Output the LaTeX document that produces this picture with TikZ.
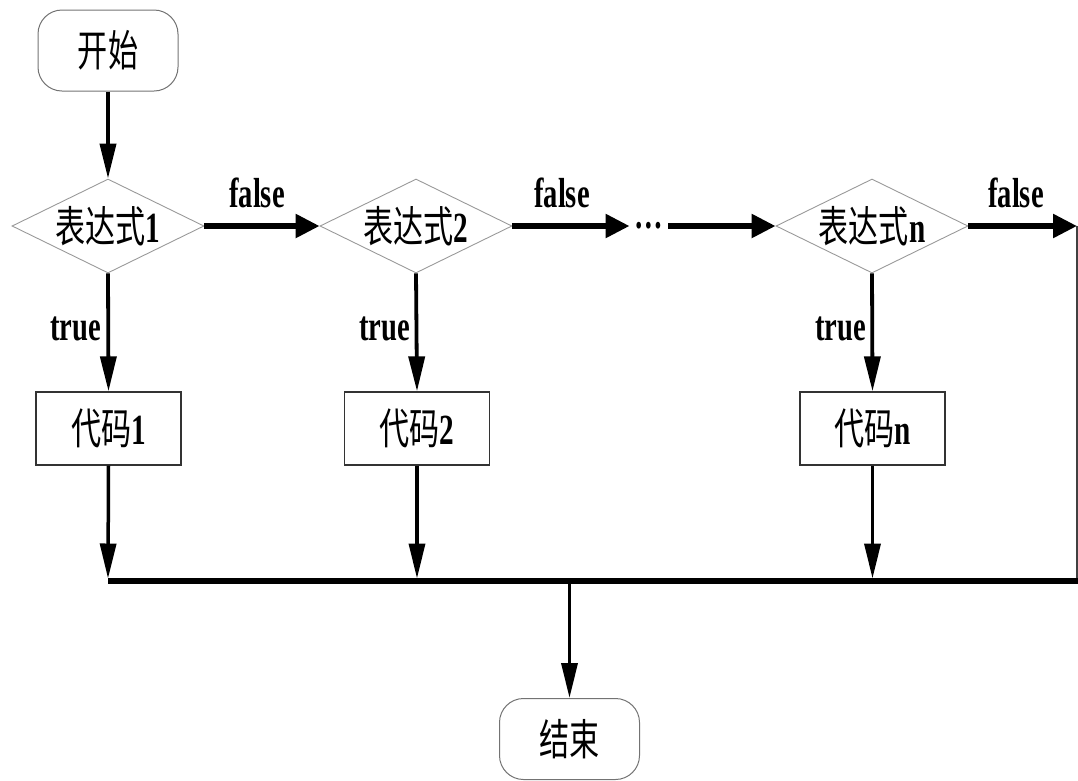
\documentclass[tikz,border=0pt]{standalone}
\usepackage{fontspec}
\usetikzlibrary{arrows.meta,shapes.geometric}
\newfontfamily\cjk[FakeStretch=0.7]{Noto Sans CJK SC}
\newfontfamily\lat[FakeStretch=0.68]{Liberation Serif Bold}
\tikzset{
  every node/.style={font=\fontsize{43}{44}\selectfont},
  term/.style={draw=black!55, line width=1pt, rounded corners=24pt,
    minimum width=140pt, minimum height=81pt, inner sep=0pt},
  cond/.style={shape=diamond, draw=black!40, line width=0.9pt, aspect=2.04,
    minimum width=192pt, minimum height=94pt, inner sep=0pt},
  proc/.style={draw=black!80, line width=1.3pt,
    minimum width=145pt, minimum height=73pt, inner sep=0pt},
  lbl/.style={font=\fontsize{42}{44}\selectfont\lat, inner sep=0pt},
  vflow/.style={line width=3.8pt, -{Triangle[length=35pt,width=16pt]}},
  hflow/.style={line width=5.5pt, -{Triangle[length=24pt,width=23pt]}},
  busline/.style={line width=6pt},
  returnline/.style={line width=2pt, draw=black!75},
}
\begin{document}
\begin{tikzpicture}[x=1pt,y=-1pt]
\useasboundingbox (0,0) rectangle (1078,780);

% terminals
\node[term] (start) at (108,50.5) {\cjk 开始};
\node[term] (stop) at (569.5,739) {\cjk 结束};

% conditions
\node[cond, label={center:{\cjk 表达式\lat 1}}] (d1) at (108,226) {};
\node[cond, label={center:{\cjk 表达式\lat 2}}] (d2) at (416,226) {};
\node[cond, label={center:{\cjk 表达式\lat n}}] (dn) at (872,226) {};
\node[lbl, text height=5.5pt, text depth=0pt, inner xsep=5pt] (dots) at (649,226) {…};

% code blocks
\node[proc] (p1) at (108.5,428.5) {\cjk 代码\lat 1};
\node[proc] (p2) at (417,428.5) {\cjk 代码\lat 2};
\node[proc] (pn) at (872.5,428.5) {\cjk 代码\lat n};

% junction points on the collecting bus
\coordinate (bl) at (108,581);
\coordinate (br) at (1078,581);
\coordinate (j1) at (108,578.5);
\coordinate (j2) at (417,578.5);
\coordinate (jn) at (872.5,578.5);
\coordinate (jm) at (569.5,583);
\coordinate (rt) at (1077,226);
\coordinate (rb) at (1077,581);

% flow
\draw[vflow] (start.south) -- (d1.north);
\draw[hflow] (d1.east) -- (d2.west);
\draw[hflow] (d2.east) -- (dots.west);
\draw[hflow] (dots.east) -- (dn.west);
\draw[hflow] (dn.east) -- (rt);
\draw[returnline] (rt) -- (rb);

\draw[vflow] (d1.south) -- (p1.north);
\draw[vflow] (d2.south) -- (p2.north);
\draw[vflow] (dn.south) -- (pn.north);

\draw[vflow, line width=3.5pt] (p1.south) -- (j1);
\draw[vflow, line width=3.5pt] (p2.south) -- (j2);
\draw[vflow, line width=3.5pt] (pn.south) -- (jn);

\draw[busline] (bl) -- (br);
\draw[vflow, line width=3.5pt] (jm) -- (stop.north);

% branch labels
\node[lbl, anchor=base] (f1) at (257,207) {false};
\node[lbl, anchor=base] (f2) at (562,207) {false};
\node[lbl, anchor=base] (fn) at (1016,207) {false};
\node[lbl, anchor=base east] (t1) at (101,340) {true};
\node[lbl, anchor=base east] (t2) at (410,340) {true};
\node[lbl, anchor=base east] (tn) at (866,340) {true};
\end{tikzpicture}
\end{document}
